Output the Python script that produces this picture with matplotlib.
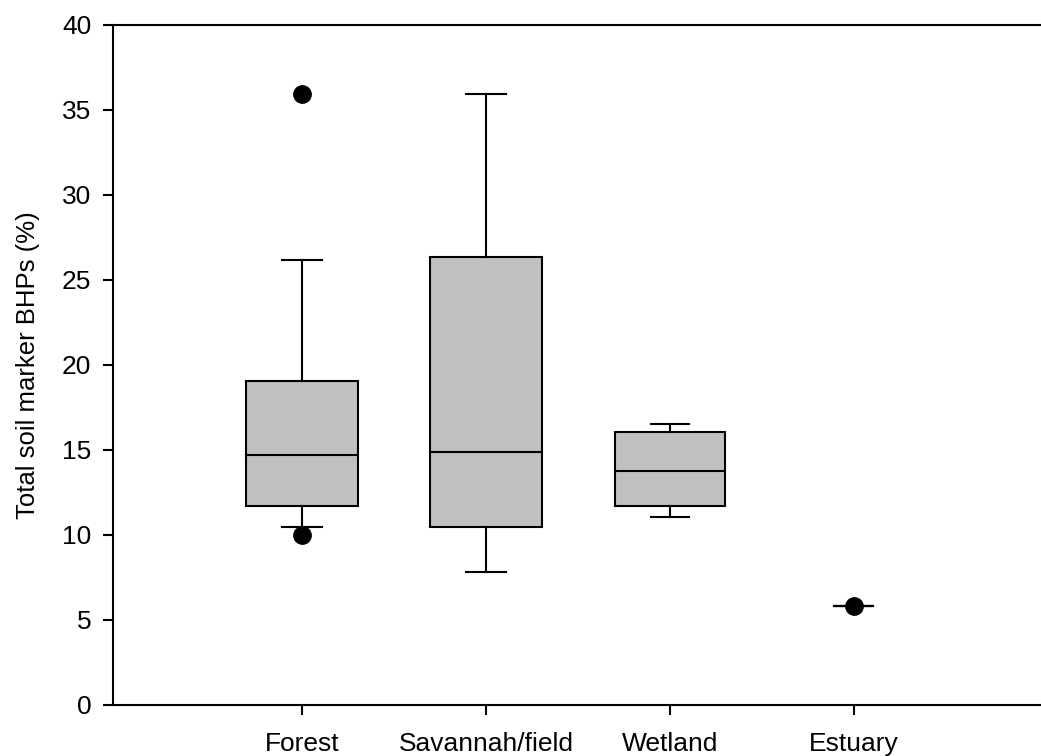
import matplotlib
matplotlib.use("Agg")
import matplotlib.pyplot as plt

# soil marker BHP summary per environment (%)
categories = ["Forest", "Savannah/field", "Wetland", "Estuary"]
whislo = [10.46, 7.84, 11.07, 5.82]
q1 = [11.68, 10.48, 11.72, 5.82]
med = [14.72, 14.86, 13.74, 5.82]
q3 = [19.05, 26.32, 16.03, 5.82]
whishi = [26.14, 35.94, 16.52, 5.82]
fliers = [[35.9, 10.01], [], [], [5.82]]

yticks = [0, 5, 10, 15, 20, 25, 30, 35, 40]

plt.rcParams['font.family'] = ['Liberation Sans', 'DejaVu Sans']

stats = []
for i, name in enumerate(categories):
    stats.append(dict(label=name, whislo=whislo[i], q1=q1[i], med=med[i],
                      q3=q3[i], whishi=whishi[i], fliers=fliers[i]))

fig = plt.figure(figsize=(10.41, 7.56), dpi=100)
W, H = 1041, 756
ax = fig.add_axes([113 / W, (H - 705) / H, (W - 113) / W, (705 - 24.5) / H])

pos = [1, 2, 3, 4]
lw = 1.5
ax.bxp(stats, positions=pos, widths=[0.61, 0.61, 0.6, 0.21],
       capwidths=[0.217, 0.217, 0.21, 0.21], patch_artist=True,
       boxprops=dict(facecolor="#c0c0c0", edgecolor="black", linewidth=lw),
       medianprops=dict(color="black", linewidth=lw),
       whiskerprops=dict(color="black", linewidth=lw),
       capprops=dict(color="black", linewidth=lw),
       flierprops=dict(marker="o", markerfacecolor="black",
                       markeredgecolor="black", markersize=12.5))

ax.set_xlim(-0.03, 5.02)
ax.set_ylim(0, 40)
ax.set_yticks(yticks)
ax.set_xticks(pos)
ax.set_xticklabels(categories)

ax.spines['right'].set_visible(False)
for s in ['left', 'top', 'bottom']:
    ax.spines[s].set_linewidth(lw)
ax.tick_params(direction='out', length=7.5, width=lw, labelsize=19)
ax.tick_params(axis='y', pad=8)
ax.tick_params(axis='x', pad=12)
ax.set_ylabel("Total soil marker BHPs (%)", fontsize=18.5, labelpad=16)

fig.savefig("out.png", dpi=100)
